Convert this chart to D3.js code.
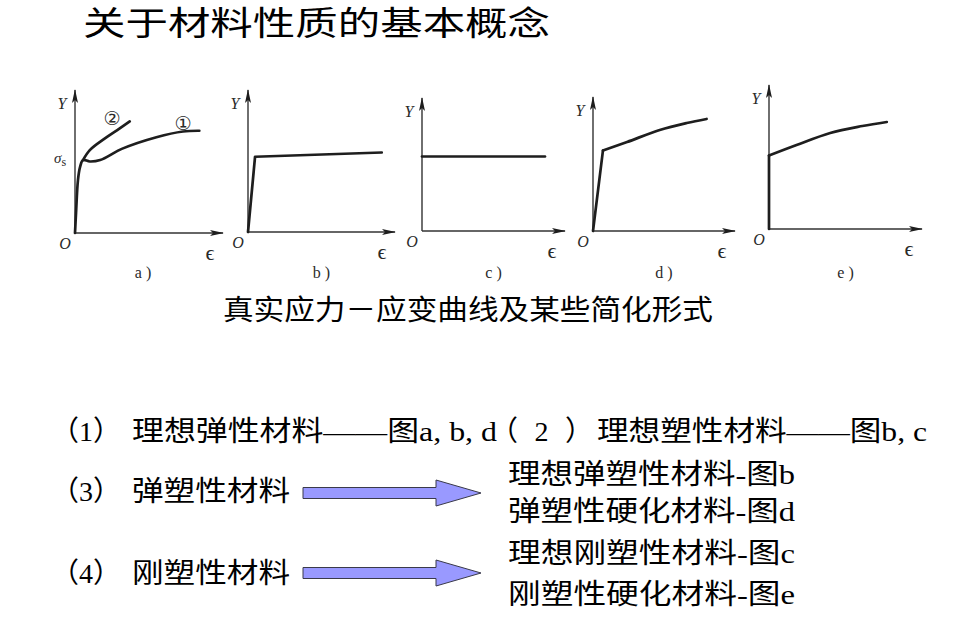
<!DOCTYPE html>
<html>
<head>
<meta charset="utf-8">
<script src="https://cdn.jsdelivr.net/npm/d3@7"></script>
<style>
  body { margin: 0; background: #fff; }
  svg { display: block; }
</style>
</head>
<body>
<div id="slide"></div>
<script>
// slide: material property concepts, five simplified stress-strain curves

// texts
const titleText = "关于材料性质的基本概念";
const captionText = "真实应力－应变曲线及某些简化形式";
const panelNames = ["a", "b", "c", "d", "e"];
const itemNumbers = ["（1）", "（2）", "（3）", "（4）"];
const itemTexts = ["理想弹性材料——图a, b, d", "理想塑性材料——图b, c", "弹塑性材料", "刚塑性材料"];
const subTexts = ["理想弹塑性材料-图b", "弹塑性硬化材料-图d", "理想刚塑性材料-图c", "刚塑性硬化材料-图e"];

// curve values, strain / stress in % of axis length
const curveA1 = [[0, 0], [0.7, 14], [2, 37], [3.4, 46], [5.4, 51], [10, 50], [17, 51], [32, 59], [55, 67], [73, 71], [84, 71.5]];
const curveA2 = [[5.4, 51], [10, 58], [20, 66], [30, 73], [37, 78]];
const lineB = [[0, 0], [4.8, 53], [91, 56]];
const lineC = [[0, 56], [86, 56]];
const lineD = [[0, 0], [7, 60]];
const curveD = [[7, 60], [24, 66.4], [47, 75.4], [66, 80.6], [80, 83.6]];
const lineE = [[0, 0], [0, 51]];
const curveE = [[0, 51], [18, 58.3], [40, 66.7], [61, 71.5], [77, 74.3]];

const W = 960, H = 618;
const serif = "'Liberation Serif', 'Noto Sans CJK SC', serif";
const ink = "#1e1e1e";

const svg = d3.select("#slide").append("svg")
    .attr("width", W)
    .attr("height", H);

// arrow head for the axes
svg.append("defs").append("marker")
    .attr("id", "axisHead")
    .attr("viewBox", "0 0 14 6")
    .attr("refX", 13).attr("refY", 3)
    .attr("markerWidth", 14).attr("markerHeight", 6)
    .attr("markerUnits", "userSpaceOnUse")
    .attr("orient", "auto")
  .append("path")
    .attr("d", "M0,0 L14,3 L0,6 L3,3 Z")
    .attr("fill", ink);

// panels layout (origin, end of x axis, top of y axis)
const panels = [
  {name: "a", ox: 75, oy: 233, xEnd: 223, yTop: 90, paths: [[curveA1, "curve"], [curveA2, "curve"]]},
  {name: "b", ox: 248, oy: 232, xEnd: 395, yTop: 90, paths: [[lineB, "linear"]]},
  {name: "c", ox: 422, oy: 231, xEnd: 565, yTop: 98, paths: [[lineC, "linear"]]},
  {name: "d", ox: 593, oy: 231, xEnd: 735, yTop: 97, paths: [[lineD, "linear"], [curveD, "curve"]]},
  {name: "e", ox: 769, oy: 229, xEnd: 922, yTop: 85, paths: [[lineE, "linear"], [curveE, "curve"]]}
];

panels.forEach(function(p, i) {
  const x = d3.scaleLinear().domain([0, 100]).range([p.ox, p.xEnd]);
  const y = d3.scaleLinear().domain([0, 100]).range([p.oy, p.yTop]);
  const g = svg.append("g").attr("class", "panel-" + p.name);

  // axes
  g.append("line")
      .attr("x1", x(0)).attr("y1", y(0))
      .attr("x2", x(100)).attr("y2", y(0))
      .attr("stroke", "#333").attr("stroke-width", 1.4)
      .attr("marker-end", "url(#axisHead)");
  g.append("line")
      .attr("x1", x(0)).attr("y1", y(0))
      .attr("x2", x(0)).attr("y2", y(100))
      .attr("stroke", "#333").attr("stroke-width", 1.4)
      .attr("marker-end", "url(#axisHead)");

  // curves
  p.paths.forEach(function(pp) {
    const line = d3.line()
        .x(d => x(d[0]))
        .y(d => y(d[1]))
        .curve(pp[1] === "curve" ? d3.curveCatmullRom : d3.curveLinear);
    g.append("path")
        .attr("d", line(pp[0]))
        .attr("fill", "none")
        .attr("stroke", ink)
        .attr("stroke-width", 2.7)
        .attr("stroke-linejoin", "round")
        .attr("stroke-linecap", "round");
  });

  // axis letters
  g.append("text")
      .attr("x", x(0) - 13).attr("y", y(100) + 19)
      .attr("text-anchor", "middle")
      .style("font-family", serif).style("font-style", "italic")
      .style("font-size", "16px").attr("fill", "#2a2a2a")
      .text("Y");
  g.append("text")
      .attr("x", x(0) - 10).attr("y", y(0) + 16)
      .attr("text-anchor", "middle")
      .style("font-family", serif).style("font-style", "italic")
      .style("font-size", "16px").attr("fill", "#2a2a2a")
      .text("O");
  g.append("text")
      .attr("x", x(100) - 13).attr("y", y(0) + 27)
      .attr("text-anchor", "middle")
      .style("font-family", serif)
      .style("font-size", "22px").attr("fill", "#2a2a2a")
      .text("ϵ");
  g.append("text")
      .attr("x", (x(0) + x(100)) / 2 + (i === 0 ? -6 : 0)).attr("y", 278)
      .attr("text-anchor", "middle")
      .style("font-family", serif)
      .style("font-size", "16px").attr("fill", "#2a2a2a")
      .text(p.name + " )");

  if (p.name === "a") {
    // yield stress and curve numbers
    const ys = g.append("text")
        .attr("x", x(0) - 21).attr("y", y(curveA1[4][1]) + 3)
        .style("font-family", serif)
        .style("font-size", "15px").attr("fill", "#2a2a2a");
    ys.append("tspan").style("font-style", "italic").text("σ");
    ys.append("tspan").attr("dy", 3).style("font-size", "12px").text("s");
    g.append("text")
        .attr("x", x(25)).attr("y", y(80) + 6)
        .attr("text-anchor", "middle")
        .style("font-family", "'DejaVu Sans', sans-serif")
        .style("font-size", "19px").attr("fill", "#2a2a2a")
        .text("②");
    g.append("text")
        .attr("x", x(73)).attr("y", y(76) + 6)
        .attr("text-anchor", "middle")
        .style("font-family", "'DejaVu Sans', sans-serif")
        .style("font-size", "19px").attr("fill", "#2a2a2a")
        .text("①");
  }
});

// text helper, stretched to the width seen in the slide
function addText(str, x, yc, size, width, adjust) {
  const t = svg.append("text")
      .attr("x", x).attr("y", yc)
      .attr("dominant-baseline", "central")
      .style("font-family", serif)
      .style("font-size", size + "px")
      .attr("fill", "#000")
      .text(str);
  if (width) {
    t.attr("textLength", width).attr("lengthAdjust", adjust || "spacingAndGlyphs");
  }
}

addText(titleText, 83, 24, 33, 467);
addText(captionText, 223, 310, 28, 490);

// numbered items: number x, text x, centre y, text width, number width
const itemPos = [[51, 132, 431, 365, 0], [490, 597, 431, 330, 103], [51, 132, 491, 158, 0], [51, 132, 573, 158, 0]];
itemTexts.forEach(function(t, i) {
  const pos = itemPos[i];
  addText(itemNumbers[i], pos[0], pos[2], 28, pos[4], "spacing");
  addText(t, pos[1], pos[2], 28, pos[3]);
});

const subY = [474, 511, 553, 594];
subTexts.forEach((t, i) => addText(t, 508, subY[i], 28, 287));

// block arrows
const arrowShape = [[0, -5.5], [133, -5.5], [133, -13], [178, 0], [133, 13], [133, 5.5], [0, 5.5]];
[493, 573].forEach(function(cy) {
  svg.append("path")
      .attr("d", d3.line()(arrowShape.map(d => [303 + d[0], cy + d[1]])) + "Z")
      .attr("fill", "#9999ff")
      .attr("stroke", "#3a3a4a")
      .attr("stroke-width", 1);
});
</script>
</body>
</html>
